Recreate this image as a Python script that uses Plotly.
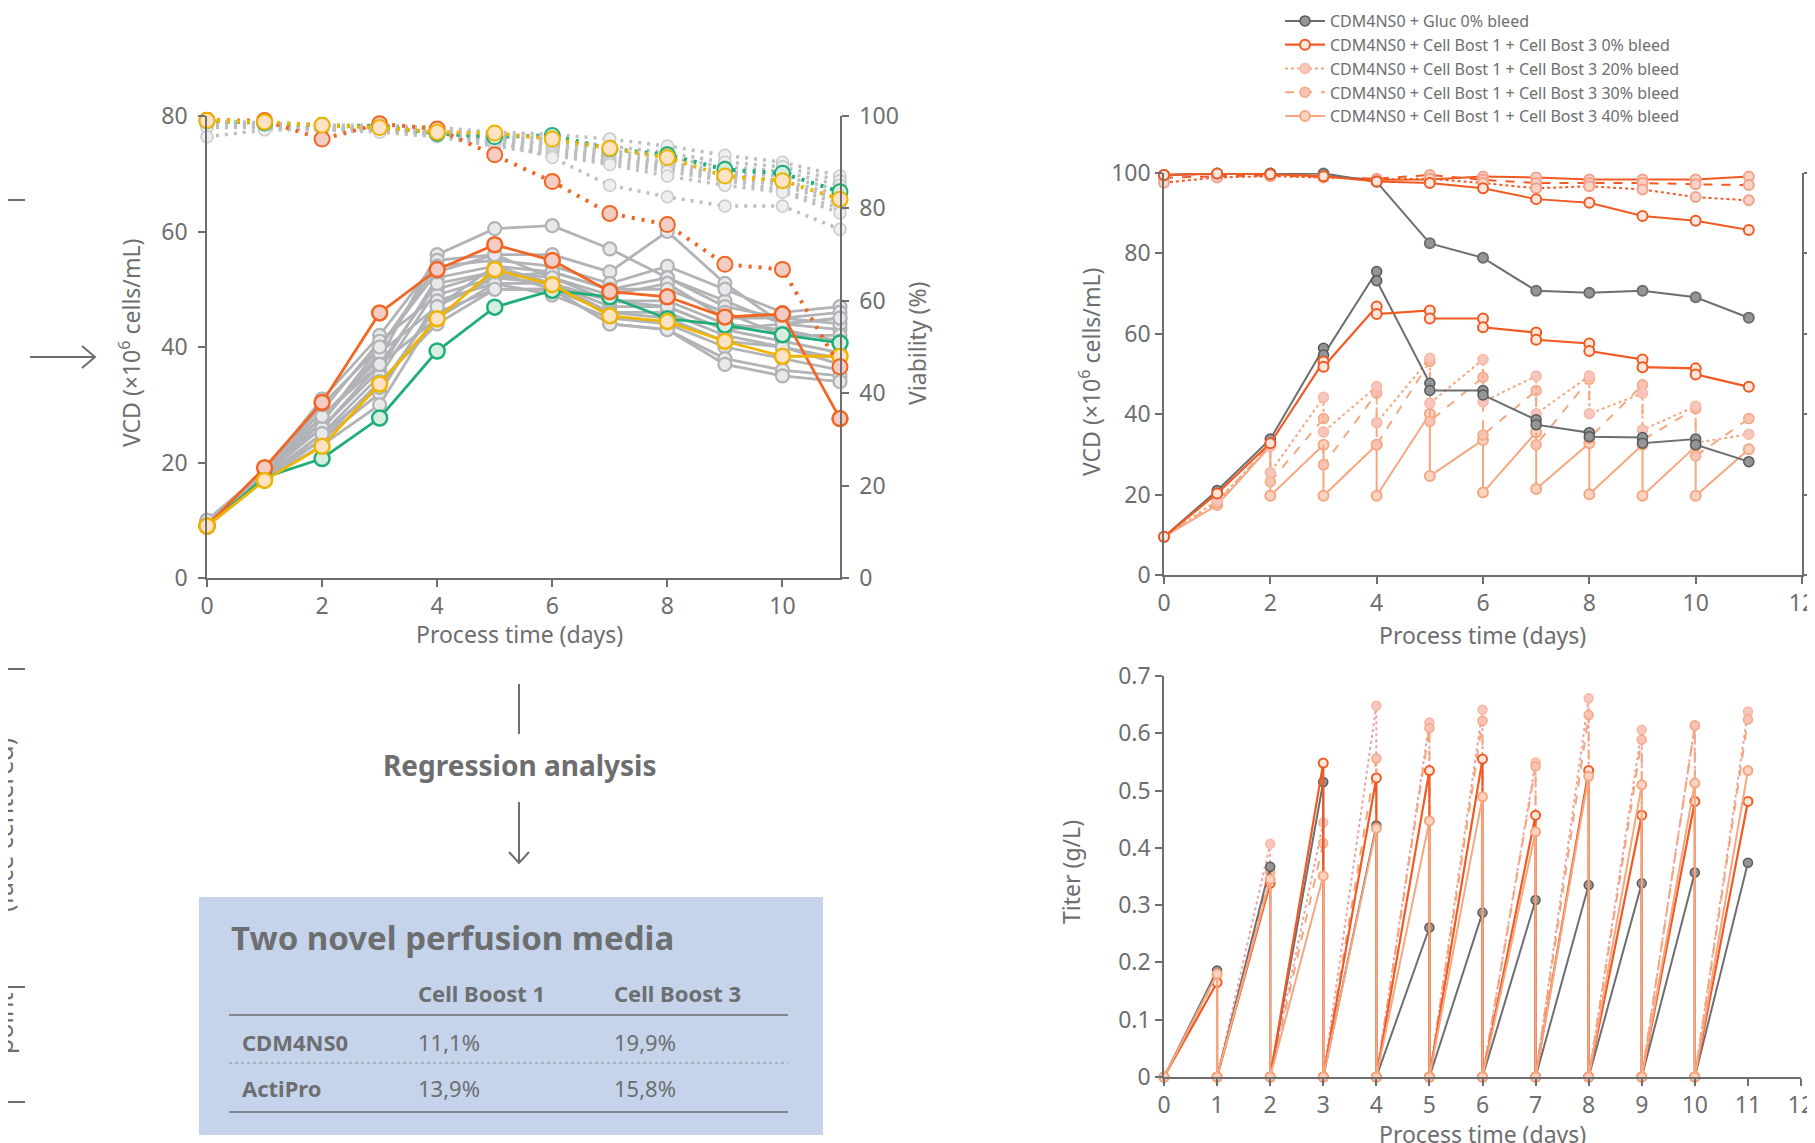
import plotly.graph_objects as go

W, H = 1815, 1143
# the page body adds an 8px margin; positions below are given in window pixels
OX, OY = 8, 8
def px(x): return (x - OX) / W
def py(y): return 1 - (y - OY) / H

TXT = "#6d6e70"
FONT = "Noto Sans"

# ---------------- Left chart data (VCD left axis, viability right axis) ----------------
days_left = list(range(12))
vcd_gray = [
    [9.5, 18, 28, 38, 56, 60.5, 61, 57, 52, 48, 44, 43],
    [10, 18.5, 31, 42, 55, 56, 56, 53, 60, 51, 44, 45],
    [9, 17.5, 27, 40, 54, 55, 54, 51, 54, 50, 46, 47],
    [9.5, 18, 26, 36, 52, 54, 53, 50, 52, 47, 45, 46],
    [9, 17, 25, 35, 50, 53, 52, 49, 51, 45, 45, 44],
    [10, 18, 29, 41, 49, 52, 53, 50, 50, 46, 42, 42],
    [9, 17.5, 24, 32, 48, 51, 51, 48, 48, 44, 43, 41],
    [9.5, 18.5, 27, 39, 47, 52, 51, 47, 47, 43, 41, 39],
    [9, 17, 23, 30, 46, 50, 50, 46, 46, 42, 40, 38],
    [10, 18, 26, 37, 45, 51, 49, 45, 44, 40, 38, 36],
    [9, 17, 24, 34, 44, 50, 50, 44, 43, 38, 36, 35],
    [9.5, 18, 28, 37, 51, 53, 50, 44, 43, 37, 35, 34],
    [9, 17.5, 25, 33, 47, 54, 51, 46, 45, 41, 40, 37],
    [10, 18, 30, 40, 53, 56, 52, 48, 47, 43, 44, 45],
]
via_gray = [
    [99, 98.5, 98, 98, 97.5, 96.5, 96, 95, 93.5, 91.5, 90, 87],
    [98.5, 98.5, 98, 97.5, 97, 96, 95, 93.5, 92, 90, 89, 86],
    [99, 98, 97.5, 97.5, 97, 95.5, 94.5, 92.5, 91, 89, 88, 85],
    [98, 98, 97.5, 97, 96.5, 95, 94, 92, 90, 88, 87, 84],
    [98.5, 97.5, 97, 97, 96, 95, 93.5, 91.5, 89.5, 87.5, 86, 83],
    [99, 98, 97.5, 97.5, 96.5, 94.5, 93, 91, 89, 87, 85.5, 82],
    [98, 98, 97, 97, 96, 94.5, 92.5, 90.5, 88.5, 86.5, 85, 81],
    [98.5, 98, 97.5, 97, 96, 94, 92, 90, 88, 86, 84, 80],
    [97.5, 97.5, 97, 96.5, 95.5, 93.5, 91.5, 89.5, 87, 85, 83.5, 79],
    [95.5, 97, 97, 97.5, 96, 94.5, 91, 85, 82.5, 80.5, 80.5, 75.5],
]
vcd_orange = [9, 19.1, 30.4, 45.9, 53.4, 57.7, 55.0, 49.6, 48.7, 45.2, 45.7, 27.6]
vcd_green = [9, 17.4, 20.7, 27.7, 39.3, 46.9, 49.8, 48.7, 44.9, 43.8, 42.1, 40.7]
vcd_yellow = [9, 16.9, 22.8, 33.6, 44.9, 53.4, 50.8, 45.4, 44.4, 41.0, 38.4, 38.4]
via_orange = [99.1, 99, 95, 98.3, 97.2, 91.6, 85.8, 78.9, 76.5, 67.9, 66.8, 45.7]
via_green = [99, 98.5, 98, 97.8, 96.2, 95.5, 95.8, 92.9, 91.6, 88.4, 87.6, 83.6]
via_yellow = [99, 98.7, 98, 97.5, 96.5, 96.3, 95, 93, 91, 87, 86, 82]

# ---------------- Top-right chart data (VCD pre/post bleed + viability) ----------------
days_r = list(range(12))
series_names = [
    "CDM4NS0 + Gluc 0% bleed",
    "CDM4NS0 + Cell Bost 1 + Cell Bost 3 0% bleed",
    "CDM4NS0 + Cell Bost 1 + Cell Bost 3 20% bleed",
    "CDM4NS0 + Cell Bost 1 + Cell Bost 3 30% bleed",
    "CDM4NS0 + Cell Bost 1 + Cell Bost 3 40% bleed",
]
gluc_vcd_pre = [9.5, 21.0, 33.8, 56.4, 75.5, 47.7, 45.9, 38.6, 35.4, 34.2, 33.8, 28.2]
gluc_vcd_post = [None, None, None, 54.7, 73.2, 45.9, 44.8, 37.4, 34.4, 32.8, 32.4, None]
gluc_via = [99.5, 99.9, 99.9, 99.9, 97.8, 82.5, 78.9, 70.7, 70.2, 70.7, 69.1, 64.0]
cb0_vcd_pre = [9.5, 20.3, 32.8, 53.1, 66.8, 65.8, 63.8, 60.3, 57.6, 53.6, 51.4, 46.8]
cb0_vcd_post = [None, None, None, 51.8, 64.9, 63.8, 61.6, 58.5, 55.7, 51.7, 49.9, None]
cb0_via = [99.5, 99.9, 99.7, 99.2, 97.9, 97.5, 96.2, 93.5, 92.6, 89.3, 88.1, 85.8]
cb20_vcd_pre = [9.5, 18.5, 32.0, 44.2, 46.9, 53.9, 53.6, 49.5, 49.5, 45.2, 42.0, 35.0]
cb20_vcd_post = [None, None, 25.5, 35.6, 37.9, 42.7, 43.1, 40.1, 40.1, 36.1, 32.9, None]
cb20_via = [97.6, 98.9, 99.2, 98.9, 98.4, 98.6, 97.5, 96.2, 96.7, 95.9, 94.0, 93.2]
cb30_vcd_pre = [9.5, 18.0, 32.5, 38.9, 45.2, 53.1, 49.2, 45.9, 48.7, 47.3, 41.4, 38.9]
cb30_vcd_post = [None, None, 23.2, 27.4, 32.4, 38.2, 34.8, 32.4, 34.0, 33.6, 29.6, None]
cb30_via = [98.8, 99.2, 99.4, 99.0, 98.6, 99.5, 98.3, 97.5, 97.5, 97.5, 97.2, 97.0]
cb40_vcd_pre = [9.5, 17.4, 32.1, 32.4, 32.4, 40.1, 33.6, 35.5, 32.8, 32.4, 32.0, 31.3]
cb40_vcd_post = [None, None, 19.7, 19.7, 19.7, 24.6, 20.5, 21.4, 20.1, 19.7, 19.7, None]
cb40_via = [99.5, 99.8, 99.9, 99.2, 98.3, 98.4, 99.1, 98.9, 98.4, 98.4, 98.4, 99.1]

# ---------------- Bottom-right chart data (titer, harvested daily) ----------------
titer_start = 0.0
titer_days = list(range(1, 12))
gluc_titer = [0.186, 0.367, 0.515, 0.439, 0.261, 0.287, 0.309, 0.335, 0.338, 0.357, 0.374]
cb0_titer = [0.165, 0.338, 0.548, 0.522, 0.535, 0.555, 0.457, 0.535, 0.457, 0.481, 0.481]
cb20_titer = [0.180, 0.407, 0.444, 0.648, 0.619, 0.641, 0.549, 0.661, 0.606, 0.614, 0.638]
cb30_titer = [0.178, 0.358, 0.408, 0.556, 0.609, 0.622, 0.542, 0.632, 0.589, 0.613, 0.624]
cb40_titer = [0.180, 0.345, 0.351, 0.434, 0.447, 0.489, 0.428, 0.525, 0.510, 0.513, 0.535]

# ---------------- Table data ----------------
table_title = "Two novel perfusion media"
table_cols = ["Cell Boost 1", "Cell Boost 3"]
table_rows = ["CDM4NS0", "ActiPro"]
table_vals = [["11,1%", "19,9%"], ["13,9%", "15,8%"]]


def sawtooth(pre, post):
    xs, ys = [], []
    for d, (a, b) in enumerate(zip(pre, post)):
        xs.append(d); ys.append(a)
        if b is not None:
            xs.append(d); ys.append(b)
    return xs, ys


def titer_path(peaks):
    xs, ys = [0], [titer_start]
    for i, (d, p) in enumerate(zip(titer_days, peaks)):
        xs.append(d); ys.append(p)
        if i < len(peaks) - 1:
            xs.append(d); ys.append(titer_start)
    return xs, ys


fig = go.Figure()

# ---- left chart
GRAY_L, GRAY_F = "#b1b3b6", "#e8e9ea"
for v in via_gray:
    fig.add_trace(go.Scatter(x=days_left, y=v, xaxis="x", yaxis="y2", mode="lines+markers",
                             line=dict(color="#bcbec0", width=3.5, dash="3px,6px"),
                             marker=dict(size=12, color="#eeeff0", line=dict(color="#c8c9cb", width=1.5)),
                             cliponaxis=False, showlegend=False, hoverinfo="skip"))
for v in vcd_gray:
    fig.add_trace(go.Scatter(x=days_left, y=v, xaxis="x", yaxis="y", mode="lines+markers",
                             line=dict(color=GRAY_L, width=2.8),
                             marker=dict(size=13, color=GRAY_F, line=dict(color=GRAY_L, width=2.2)),
                             cliponaxis=False, showlegend=False, hoverinfo="skip"))

colored = [
    (via_green, vcd_green, "#1fae78", "#d6eedf"),
    (via_orange, vcd_orange, "#f26522", "#f3cdc4"),
    (via_yellow, vcd_yellow, "#f0b400", "#fde2c6"),
]
for via, vcd, col, fill in colored:
    fig.add_trace(go.Scatter(x=days_left, y=via, xaxis="x", yaxis="y2", mode="lines+markers",
                             line=dict(color=col, width=4, dash="3px,7px"),
                             marker=dict(size=15, color=fill, line=dict(color=col, width=2)),
                             cliponaxis=False, showlegend=False, hoverinfo="skip"))
for via, vcd, col, fill in colored:
    fig.add_trace(go.Scatter(x=days_left, y=vcd, xaxis="x", yaxis="y", mode="lines+markers",
                             line=dict(color=col, width=2.8),
                             marker=dict(size=15, color=fill, line=dict(color=col, width=2.5)),
                             cliponaxis=False, showlegend=False, hoverinfo="skip"))

# ---- top-right chart
styles = [
    dict(line=dict(color="#6d6e70", width=2), marker=dict(size=10, color="#939598", line=dict(color="#58595b", width=1.5))),
    dict(line=dict(color="#f15a22", width=2.2), marker=dict(size=10, color="#fde6dc", line=dict(color="#f15a22", width=2))),
    dict(line=dict(color="#f7a77f", width=2, dash="dot"), marker=dict(size=10, color="#f6c6bf", line=dict(color="#f8b8a2", width=1.5))),
    dict(line=dict(color="#f7a77f", width=2, dash="dash"), marker=dict(size=10, color="#f7c3b6", line=dict(color="#f7a77f", width=1.5))),
    dict(line=dict(color="#f7a77f", width=2), marker=dict(size=10, color="#fbd3c2", line=dict(color="#f7a77f", width=2))),
]
vcd_sets = [(gluc_vcd_pre, gluc_vcd_post), (cb0_vcd_pre, cb0_vcd_post), (cb20_vcd_pre, cb20_vcd_post),
            (cb30_vcd_pre, cb30_vcd_post), (cb40_vcd_pre, cb40_vcd_post)]
via_sets = [gluc_via, cb0_via, cb20_via, cb30_via, cb40_via]
via_dash = ["solid", "solid", "dot", "dash", "solid"]

draw_order = [4, 3, 2, 0, 1]
for i in draw_order:
    vcol = "#6d6e70" if i == 0 else "#f15a22"
    vfill = "#939598" if i == 0 else ("#fde6dc" if i == 1 else "#f9d3c8")
    vline = vcol if i < 2 else "#f4a08a"
    fig.add_trace(go.Scatter(x=days_r, y=via_sets[i], xaxis="x2", yaxis="y4", mode="lines+markers",
                             line=dict(color=vcol, width=2, dash=via_dash[i]),
                             marker=dict(size=10, color=vfill, line=dict(color=vline, width=2)),
                             cliponaxis=False, showlegend=False, hoverinfo="skip"))
for i in draw_order:
    st = styles[i]
    xs, ys = sawtooth(*vcd_sets[i])
    fig.add_trace(go.Scatter(x=xs, y=ys, xaxis="x2", yaxis="y3", mode="lines+markers",
                             line=st["line"], marker=st["marker"], cliponaxis=False,
                             name=series_names[i], showlegend=False, hoverinfo="skip"))
# legend entries (same styles as the plotted series)
for i in range(5):
    st = styles[i]
    fig.add_trace(go.Scatter(x=[None], y=[None], xaxis="x2", yaxis="y3", mode="lines+markers",
                             line=st["line"], marker=st["marker"], name=series_names[i],
                             showlegend=True, hoverinfo="skip"))

# ---- bottom-right titer chart
titer_sets = [gluc_titer, cb0_titer, cb20_titer, cb30_titer, cb40_titer]
titer_styles = [
    dict(color="#6d6e70", width=2, dash="solid"),
    dict(color="#f15a22", width=2.2, dash="solid"),
    dict(color="#eda3a0", width=2, dash="dot"),
    dict(color="#f4a57c", width=2, dash="dash"),
    dict(color="#f7a77f", width=2, dash="solid"),
]
for i in [2, 3, 0, 1, 4]:
    xs, ys = titer_path(titer_sets[i])
    mk = styles[i]["marker"]
    fig.add_trace(go.Scatter(x=xs, y=ys, xaxis="x3", yaxis="y5", mode="lines+markers",
                             line=titer_styles[i], marker=dict(size=9, color=mk["color"], line=mk["line"]),
                             cliponaxis=False, showlegend=False, hoverinfo="skip"))

axis_common = dict(showline=True, linecolor=TXT, linewidth=1.5, ticks="outside", ticklen=7,
                   tickcolor=TXT, tickwidth=1.5, showgrid=False, zeroline=False, automargin=False,
                   tickfont=dict(family=FONT, size=23, color=TXT))

fig.update_layout(
    template="none",
    width=W, height=H, margin=dict(l=0, r=0, t=0, b=0, pad=0, autoexpand=False),
    paper_bgcolor="white", plot_bgcolor="rgba(0,0,0,0)",
    font=dict(family=FONT, color=TXT),
    xaxis=dict(domain=[px(207), px(840)], anchor="y", range=[0, 11], tick0=0, dtick=2, **axis_common),
    yaxis=dict(domain=[py(578), py(116)], anchor="x", range=[0, 80], dtick=20, ticklabelstandoff=6, **axis_common),
    yaxis2=dict(overlaying="y", side="right", anchor="x", range=[0, 100], dtick=20, ticklabelstandoff=6, **axis_common),
    xaxis2=dict(domain=[px(1164), px(1802)], anchor="y3", range=[0, 12], tick0=0, dtick=2, **axis_common),
    yaxis3=dict(domain=[py(575), py(173)], anchor="x2", range=[0, 100], dtick=20, **axis_common),
    yaxis4=dict(overlaying="y3", side="right", anchor="x2", range=[0, 100], dtick=20, showticklabels=False, **axis_common),
    xaxis3=dict(domain=[px(1164), px(1801)], anchor="y5", range=[0, 12], tick0=0, dtick=1, **axis_common),
    yaxis5=dict(domain=[py(1077), py(676)], anchor="x3", range=[0, 0.7], dtick=0.1, **axis_common),
    legend=dict(x=px(1280), y=py(4), xanchor="left", yanchor="top", bgcolor="rgba(0,0,0,0)",
                font=dict(family=FONT, size=16, color=TXT), tracegroupgap=0, itemwidth=40),
)

ann = []
def text(x, y, s, size=22, bold=False, angle=0, xanchor="center", color=TXT):
    ann.append(dict(x=px(x), y=py(y), xref="paper", yref="paper", text=f"<b>{s}</b>" if bold else s,
                    showarrow=False, textangle=angle, xanchor=xanchor, yanchor="middle",
                    font=dict(family=FONT, size=size, color=color)))

# axis titles
text(130, 343, "VCD (×10<sup>6</sup> cells/mL)", 23, angle=-90)
text(917, 343, "Viability (%)", 23, angle=-90)
text(520, 634, "Process time (days)", 23)
text(1090, 372, "VCD (×10<sup>6</sup> cells/mL)", 23, angle=-90)
text(1482, 635, "Process time (days)", 23)
text(1071, 872, "Titer (g/L)", 23, angle=-90)
text(1482, 1134, "Process time (days)", 23)
# middle flow
text(520, 765, "Regression analysis", 28, bold=True)
# side labels (cut off at page edge)
text(3, 825, "(face centered)", 25, angle=-90)
text(3, 1024, "point", 25, angle=-90)
# table
text(229, 937, table_title, 33, bold=True, xanchor="left")
col_x = [416, 612]
for cx, c in zip(col_x, table_cols):
    text(cx, 993, c, 22, bold=True, xanchor="left")
row_y = [1042, 1088]
for ry, rname, vals in zip(row_y, table_rows, table_vals):
    text(240, ry, rname, 22, bold=True, xanchor="left")
    for cx, v in zip(col_x, vals):
        text(cx, ry, v, 22, xanchor="left")
fig.update_layout(annotations=ann)

shapes = []
def line(x0, y0, x1, y1, w=2, dash="solid", color=TXT):
    shapes.append(dict(type="line", xref="paper", yref="paper", x0=px(x0), y0=py(y0), x1=px(x1), y1=py(y1),
                       line=dict(color=color, width=w, dash=dash)))
def path(pts, w=2):
    d = "M " + " L ".join(f"{px(a):.5f},{py(b):.5f}" for a, b in pts)
    shapes.append(dict(type="path", xref="paper", yref="paper", path=d, line=dict(color=TXT, width=w)))

shapes.append(dict(type="rect", xref="paper", yref="paper", x0=px(199), y0=py(1135), x1=px(823), y1=py(897),
                   fillcolor="#c6d4eb", line=dict(width=0), layer="below"))
line(229, 1015, 788, 1015, 1.5)
line(229, 1063, 788, 1063, 1.2, dash="dot", color="#8a8c8f")
line(229, 1112, 788, 1112, 1.5)
# left decorations
line(0, 200, 25, 200)
line(30, 357, 94, 357)
path([(82, 346), (95, 357), (82, 368)])
line(0, 669, 25, 669)
line(0, 987, 25, 987)
line(0, 1102, 25, 1102)
# middle arrows
line(519, 684, 519, 734)
line(519, 802, 519, 863)
path([(509, 852), (519, 863), (529, 852)])
fig.update_layout(shapes=shapes)

fig.write_html("out.html")
